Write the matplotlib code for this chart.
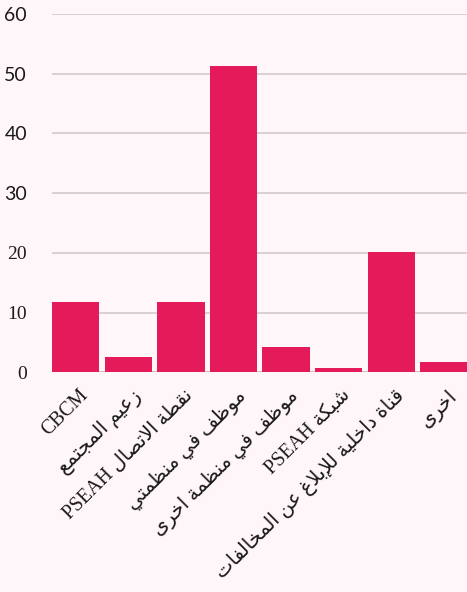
import matplotlib
matplotlib.use("Agg")
import matplotlib.pyplot as plt
import matplotlib.transforms as mtransforms

categories = [
    "CBCM",
    "زعيم المجتمع",
    "نقطة الاتصال PSEAH",
    "موظف في منظمتي",
    "موظف في منظمة اخرى",
    "شبكة PSEAH",
    "قناة داخلية للإبلاغ عن المخالفات",
    "اخرى",
]
values = [11.8, 2.5, 11.8, 51.3, 4.2, 0.8, 20.2, 1.7]
yticks = [0, 10, 20, 30, 40, 50, 60]

BAR = "#E41A5A"
BG = "#FFF6F9"

# matplotlib has no arabic shaping, so map letters to presentation forms
# (isolated, final, initial, medial); None -> letter does not join forward
FORMS = {
    "ا": (0xFE8D, 0xFE8E, None, None),
    "أ": (0xFE83, 0xFE84, None, None),
    "إ": (0xFE87, 0xFE88, None, None),
    "آ": (0xFE81, 0xFE82, None, None),
    "ب": (0xFE8F, 0xFE90, 0xFE91, 0xFE92),
    "ة": (0xFE93, 0xFE94, None, None),
    "ت": (0xFE95, 0xFE96, 0xFE97, 0xFE98),
    "ث": (0xFE99, 0xFE9A, 0xFE9B, 0xFE9C),
    "ج": (0xFE9D, 0xFE9E, 0xFE9F, 0xFEA0),
    "ح": (0xFEA1, 0xFEA2, 0xFEA3, 0xFEA4),
    "خ": (0xFEA5, 0xFEA6, 0xFEA7, 0xFEA8),
    "د": (0xFEA9, 0xFEAA, None, None),
    "ذ": (0xFEAB, 0xFEAC, None, None),
    "ر": (0xFEAD, 0xFEAE, None, None),
    "ز": (0xFEAF, 0xFEB0, None, None),
    "س": (0xFEB1, 0xFEB2, 0xFEB3, 0xFEB4),
    "ش": (0xFEB5, 0xFEB6, 0xFEB7, 0xFEB8),
    "ص": (0xFEB9, 0xFEBA, 0xFEBB, 0xFEBC),
    "ض": (0xFEBD, 0xFEBE, 0xFEBF, 0xFEC0),
    "ط": (0xFEC1, 0xFEC2, 0xFEC3, 0xFEC4),
    "ظ": (0xFEC5, 0xFEC6, 0xFEC7, 0xFEC8),
    "ع": (0xFEC9, 0xFECA, 0xFECB, 0xFECC),
    "غ": (0xFECD, 0xFECE, 0xFECF, 0xFED0),
    "ف": (0xFED1, 0xFED2, 0xFED3, 0xFED4),
    "ق": (0xFED5, 0xFED6, 0xFED7, 0xFED8),
    "ك": (0xFED9, 0xFEDA, 0xFEDB, 0xFEDC),
    "ل": (0xFEDD, 0xFEDE, 0xFEDF, 0xFEE0),
    "م": (0xFEE1, 0xFEE2, 0xFEE3, 0xFEE4),
    "ن": (0xFEE5, 0xFEE6, 0xFEE7, 0xFEE8),
    "ه": (0xFEE9, 0xFEEA, 0xFEEB, 0xFEEC),
    "و": (0xFEED, 0xFEEE, None, None),
    "ى": (0xFEEF, 0xFEF0, None, None),
    "ي": (0xFEF1, 0xFEF2, 0xFEF3, 0xFEF4),
}
LAM_ALEF = {"ا": (0xFEFB, 0xFEFC), "أ": (0xFEF7, 0xFEF8),
            "إ": (0xFEF9, 0xFEFA), "آ": (0xFEF5, 0xFEF6)}


def shape(text):
    out = []
    i = 0
    n = len(text)
    while i < n:
        c = text[i]
        if c not in FORMS:
            out.append(c)
            i += 1
            continue
        prev = text[i - 1] if i > 0 else ""
        joins_prev = prev in FORMS and FORMS[prev][2] is not None
        if c == "ل" and i + 1 < n and text[i + 1] in LAM_ALEF:
            iso, fin = LAM_ALEF[text[i + 1]]
            out.append(chr(fin if joins_prev else iso))
            i += 2
            continue
        nxt = text[i + 1] if i + 1 < n else ""
        joins_next = FORMS[c][2] is not None and nxt in FORMS
        iso, fin, ini, med = FORMS[c]
        if joins_prev and joins_next:
            out.append(chr(med))
        elif joins_prev:
            out.append(chr(fin))
        elif joins_next:
            out.append(chr(ini))
        else:
            out.append(chr(iso))
        i += 1
    return "".join(out)


def is_arabic(s):
    return any("\u0600" <= ch <= "\u06FF" or "\uFE70" <= ch <= "\uFEFF" for ch in s)


def rtl(text):
    if not is_arabic(text):
        return text
    words = shape(text).split(" ")
    words = [w[::-1] if is_arabic(w) else w for w in words]
    return " ".join(words[::-1])


fig = plt.figure(figsize=(4.67, 5.92), dpi=100, facecolor=BG)
ax = fig.add_axes([52 / 467, 0.3711, 415.5 / 467, 0.6052])
ax.set_facecolor(BG)

x = list(range(len(values)))
ax.bar(x, values, width=0.9, color=BAR, zorder=3)

ax.set_xlim(-0.45, 7.45)
ax.set_ylim(0, 60)
ax.set_yticks(yticks)
ax.yaxis.grid(True, color="#CEC6CA", linewidth=1.1, zorder=0)
ax.axhline(0, color="#A9A4A6", linewidth=1.2, zorder=1)
for s in ax.spines.values():
    s.set_visible(False)
ax.tick_params(axis="both", length=0)
ax.tick_params(axis="y", pad=18)

ax.set_yticklabels([str(v) for v in yticks])
for lab, v in zip(ax.get_yticklabels(), yticks):
    # top ticks render in a sans face, lower ones in serif
    if v >= 30:
        lab.set_fontfamily("Lato")
    else:
        lab.set_fontfamily("Liberation Serif")
    lab.set_fontsize(14)
    lab.set_color("#1a1a1a")

ax.set_xticks(x)
ax.set_xticklabels([rtl(c) for c in categories], rotation=45, ha="right",
                   rotation_mode="anchor", fontsize=14.2,
                   family=["Liberation Serif", "DejaVu Sans"], color="#1a1a1a")
ax.tick_params(axis="x", pad=10)
offset = mtransforms.ScaledTranslation(0.03, 0, fig.dpi_scale_trans)
for lab in ax.get_xticklabels():
    lab.set_transform(lab.get_transform() + offset)

fig.savefig("out.png", dpi=100, facecolor=BG)
